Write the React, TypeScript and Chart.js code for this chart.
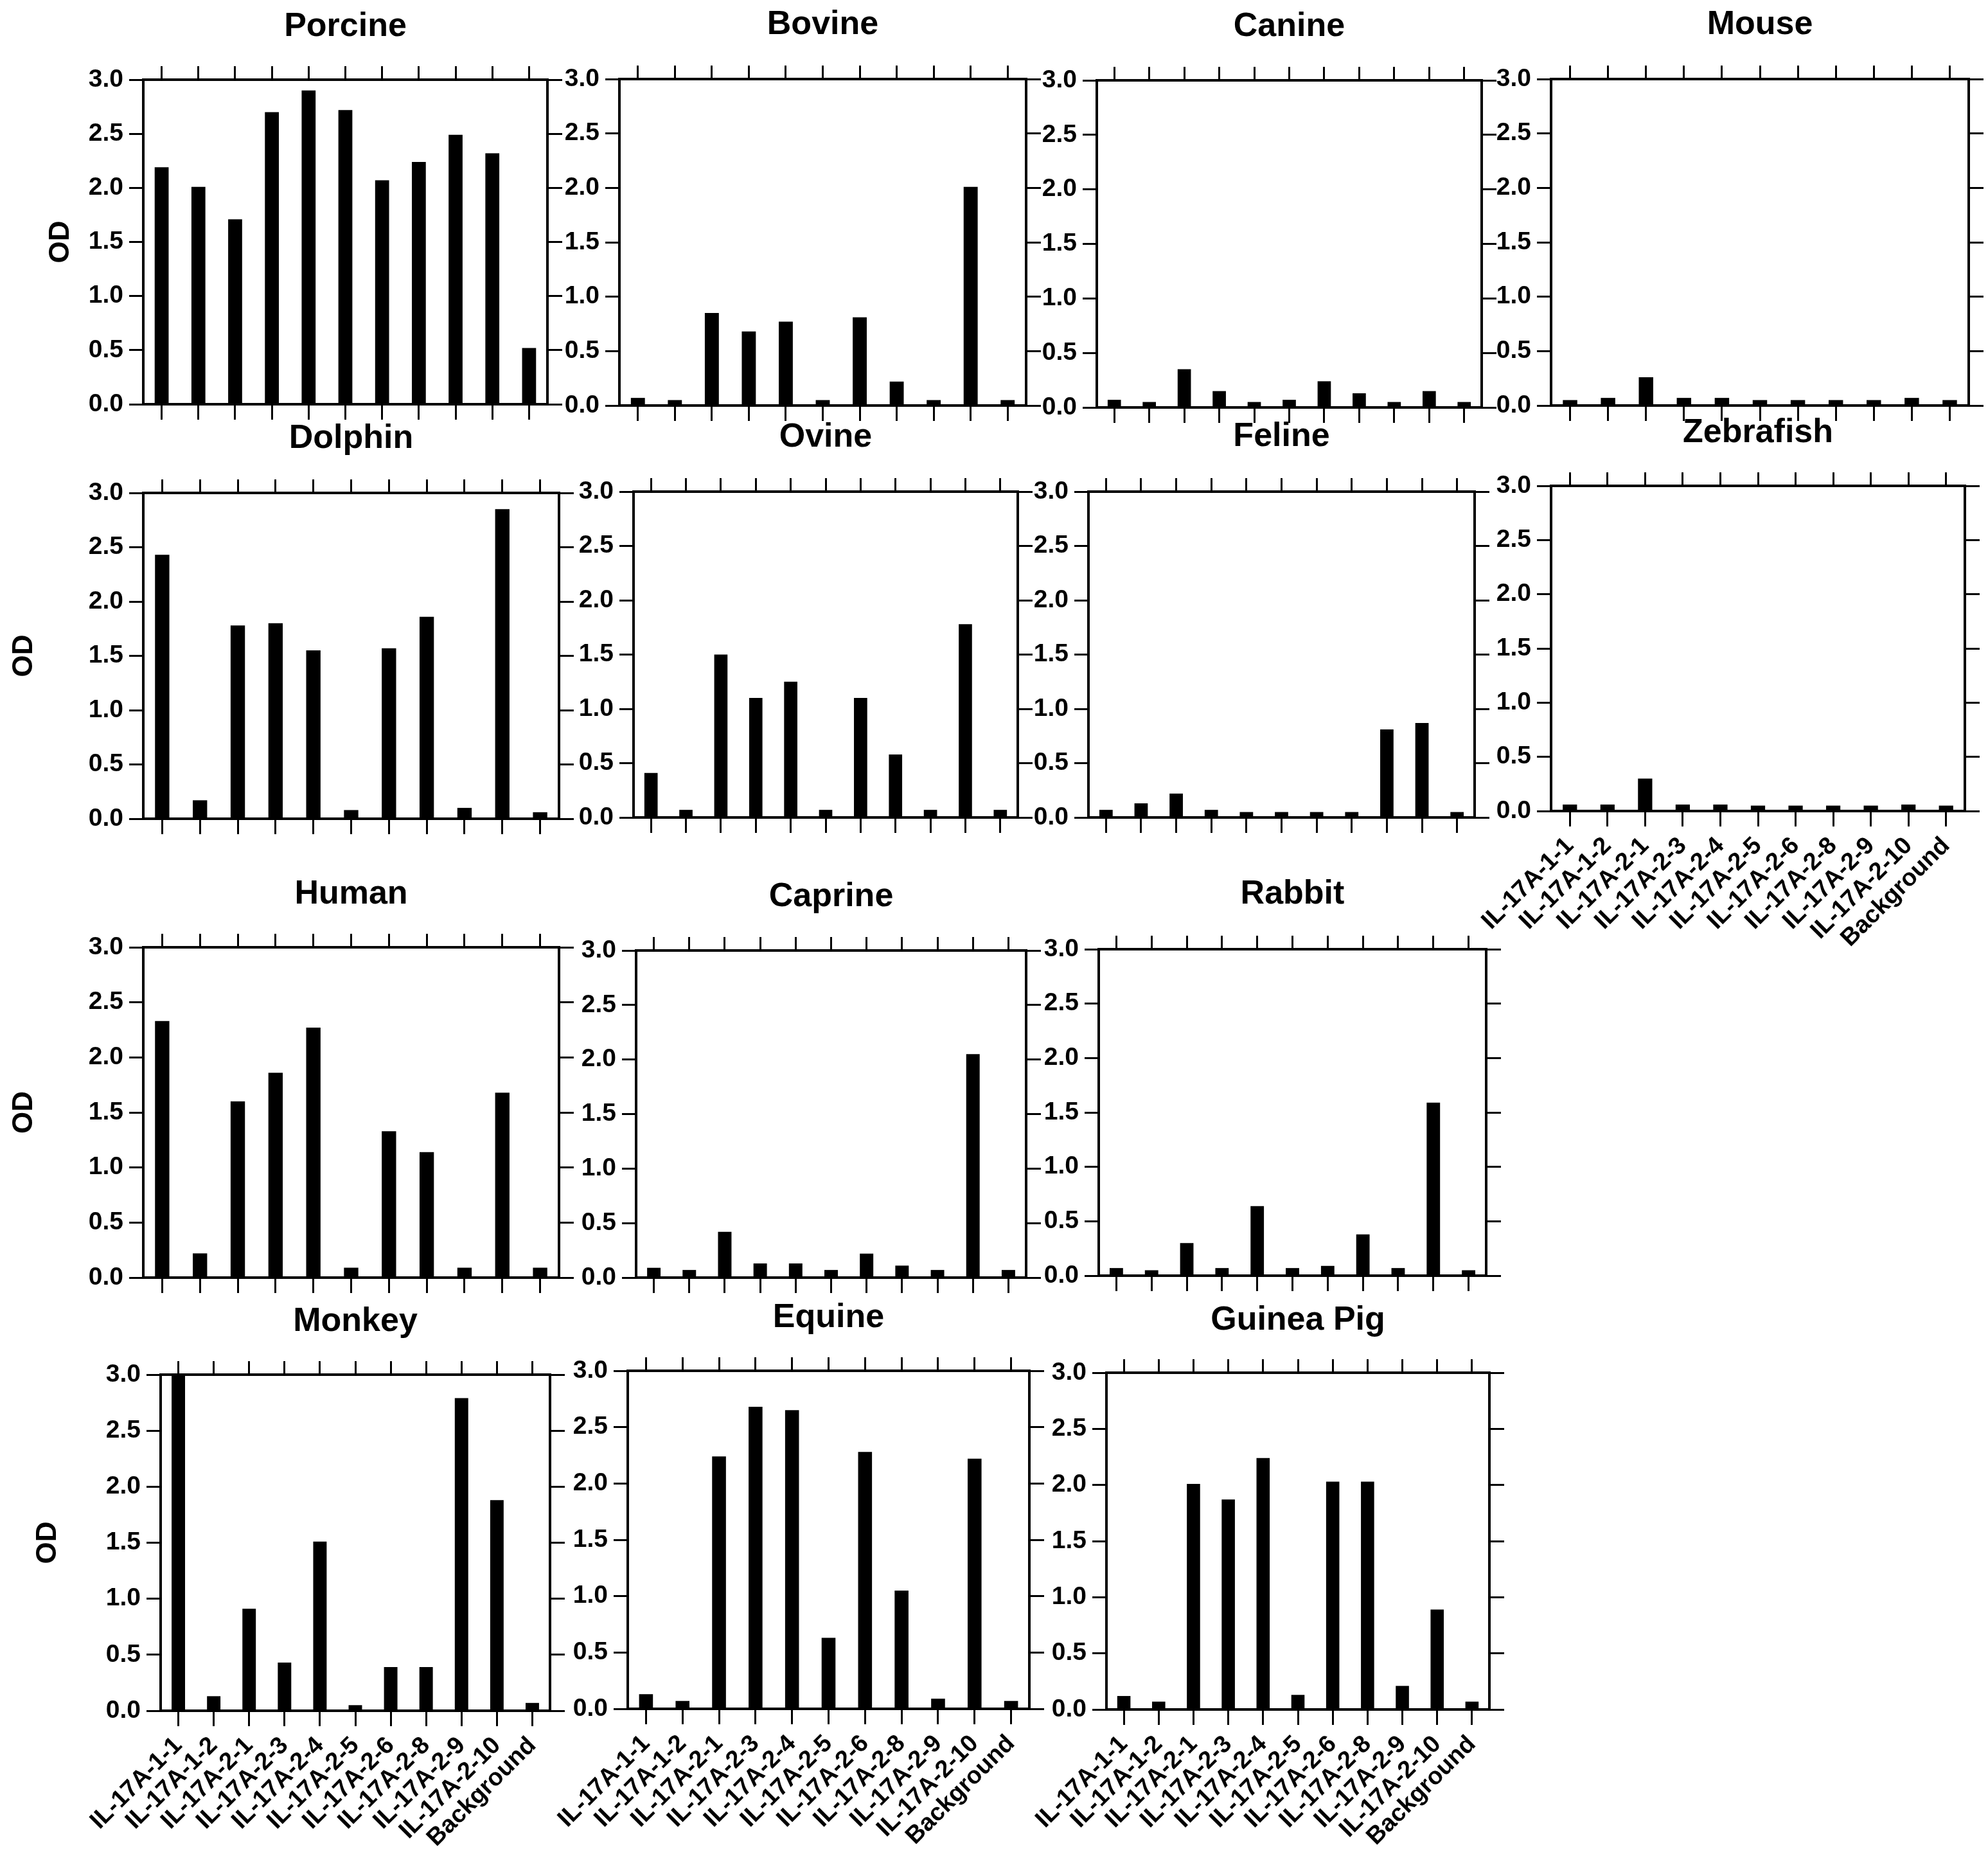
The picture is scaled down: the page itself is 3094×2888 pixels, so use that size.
import { useEffect, useRef } from 'react';
import { Chart, registerables } from 'chart.js';

Chart.register(...registerables);
Chart.defaults.font.family = '"Liberation Sans", Arial, sans-serif';
Chart.defaults.color = '#000';

// x categories (same for every panel)
const categories = [
  'IL-17A-1-1', 'IL-17A-1-2', 'IL-17A-2-1', 'IL-17A-2-3', 'IL-17A-2-4', 'IL-17A-2-5',
  'IL-17A-2-6', 'IL-17A-2-8', 'IL-17A-2-9', 'IL-17A-2-10', 'Background',
];

// y tick values (OD)
const odTicks = [0, 0.5, 1.0, 1.5, 2.0, 2.5, 3.0];

// OD values, one array per species
const porcine = [2.19, 2.01, 1.71, 2.70, 2.90, 2.72, 2.07, 2.24, 2.49, 2.32, 0.52];
const bovine = [0.07, 0.05, 0.85, 0.68, 0.77, 0.05, 0.81, 0.22, 0.05, 2.01, 0.05];
const canine = [0.07, 0.05, 0.35, 0.15, 0.05, 0.07, 0.24, 0.13, 0.05, 0.15, 0.05];
const mouse = [0.05, 0.07, 0.26, 0.07, 0.07, 0.05, 0.05, 0.05, 0.05, 0.07, 0.05];
const dolphin = [2.43, 0.17, 1.78, 1.80, 1.55, 0.08, 1.57, 1.86, 0.10, 2.85, 0.06];
const ovine = [0.41, 0.07, 1.50, 1.10, 1.25, 0.07, 1.10, 0.58, 0.07, 1.78, 0.07];
const feline = [0.07, 0.13, 0.22, 0.07, 0.05, 0.05, 0.05, 0.05, 0.81, 0.87, 0.05];
const zebrafish = [0.06, 0.06, 0.30, 0.06, 0.06, 0.05, 0.05, 0.05, 0.05, 0.06, 0.05];
const human = [2.33, 0.22, 1.60, 1.86, 2.27, 0.09, 1.33, 1.14, 0.09, 1.68, 0.09];
const caprine = [0.09, 0.07, 0.42, 0.13, 0.13, 0.07, 0.22, 0.11, 0.07, 2.05, 0.07];
const rabbit = [0.07, 0.05, 0.30, 0.07, 0.64, 0.07, 0.09, 0.38, 0.07, 1.59, 0.05];
const monkey = [3.0, 0.13, 0.91, 0.43, 1.51, 0.05, 0.39, 0.39, 2.79, 1.88, 0.07];
const equine = [0.13, 0.07, 2.24, 2.68, 2.65, 0.63, 2.28, 1.05, 0.09, 2.22, 0.07];
const guineaPig = [0.12, 0.07, 2.01, 1.87, 2.24, 0.13, 2.03, 2.03, 0.21, 0.89, 0.07];

const TITLE_SIZE = 52;
const TITLE_LH = TITLE_SIZE * 1.2;
const TOP_H = 22;
const RIGHT_W = 60;
const AXIS = '#000';

interface PanelProps {
  title: string;
  values: number[];
  box: { l: number; t: number; r: number; b: number };
  titleY: number;
  odX?: number;
  labels?: boolean;
}

function Panel({ title, values, box, titleY, odX, labels }: PanelProps) {
  const canvasRef = useRef<HTMLCanvasElement>(null);
  const left = odX !== undefined ? 0 : Math.round(box.l - 200);
  const top = Math.round(titleY - TITLE_LH / 2);
  const leftW = box.l - left;
  const bottomH = labels ? 240 : 32;
  const width = Math.round(box.r + RIGHT_W - left);
  const height = Math.round(box.b + bottomH - top);

  useEffect(() => {
    if (!canvasRef.current) return;

    const fixW = (w: number) => (scale: any) => {
      scale.width = w;
      scale.paddingLeft = scale.paddingRight = scale.paddingTop = scale.paddingBottom = 0;
    };
    const fixH = (h: number) => (scale: any) => {
      scale.height = h;
      scale.paddingLeft = scale.paddingRight = scale.paddingTop = scale.paddingBottom = 0;
    };
    const setTicks = (scale: any) => {
      scale.ticks = odTicks.map(v => ({ value: v }));
    };
    const grid = (len: number) => ({
      display: true,
      drawOnChartArea: false,
      drawTicks: true,
      offset: false,
      tickLength: len,
      lineWidth: 3,
      color: AXIS,
    });
    const border = { display: true, width: 4, color: AXIS };

    const chart = new Chart(canvasRef.current, {
      type: 'bar',
      data: {
        labels: categories,
        datasets: [
          {
            data: values,
            backgroundColor: '#000',
            borderWidth: 0,
            barPercentage: 0.38,
            categoryPercentage: 1,
            xAxisID: 'x',
            yAxisID: 'y',
          },
        ],
      },
      options: {
        animation: false,
        responsive: false,
        maintainAspectRatio: false,
        devicePixelRatio: 1,
        layout: { padding: 0 },
        plugins: {
          legend: { display: false },
          tooltip: { enabled: false },
          title: {
            display: true,
            text: title,
            fullSize: false,
            color: '#000',
            font: { size: TITLE_SIZE, weight: 'bold', lineHeight: 1.2 },
            padding: { top: 0, bottom: box.t - TOP_H - top - TITLE_LH },
          },
        },
        scales: {
          x: {
            type: 'category',
            position: 'bottom',
            offset: true,
            grid: grid(24),
            border,
            ticks: {
              display: !!labels,
              autoSkip: false,
              maxRotation: 45,
              minRotation: 45,
              padding: 8,
              color: '#000',
              font: { size: 38, weight: 'bold' },
            },
            afterFit: fixH(bottomH),
          },
          x2: {
            type: 'category',
            position: 'top',
            offset: true,
            grid: grid(21),
            border,
            ticks: { display: false },
            afterFit: fixH(TOP_H),
          },
          y: {
            type: 'linear',
            position: 'left',
            min: 0,
            max: 3,
            afterBuildTicks: setTicks,
            grid: grid(22),
            border,
            ticks: {
              padding: 9,
              color: '#000',
              font: { size: 39, weight: 'bold' },
              callback: (v: any) => Number(v).toFixed(1),
            },
            title: odX !== undefined
              ? {
                  display: true,
                  text: 'OD',
                  color: '#000',
                  font: { size: 44, weight: 'bold', lineHeight: 1.2 },
                  padding: { top: odX - 26.4, bottom: 0 },
                }
              : { display: false },
            afterFit: fixW(leftW),
          },
          y2: {
            type: 'linear',
            position: 'right',
            min: 0,
            max: 3,
            afterBuildTicks: setTicks,
            grid: grid(23),
            border,
            ticks: { display: false },
            afterFit: fixW(RIGHT_W),
          },
        },
      },
    } as any);

    return () => {
      chart.destroy();
    };
  }, [title, values, box, titleY, odX, labels, leftW, bottomH, top]);

  return (
    <canvas
      ref={canvasRef}
      width={width}
      height={height}
      style={{ position: 'absolute', left, top, width, height }}
    />
  );
}

const panels: PanelProps[] = [
  { title: 'Porcine', values: porcine, box: { l: 223, t: 124, r: 852, b: 629 }, titleY: 41, odX: 95 },
  { title: 'Bovine', values: bovine, box: { l: 964, t: 123, r: 1597, b: 631 }, titleY: 38 },
  { title: 'Canine', values: canine, box: { l: 1707, t: 125, r: 2306, b: 634 }, titleY: 41 },
  { title: 'Mouse', values: mouse, box: { l: 2414, t: 123, r: 3064, b: 631 }, titleY: 38 },
  { title: 'Dolphin', values: dolphin, box: { l: 223, t: 767, r: 870, b: 1274 }, titleY: 682, odX: 38 },
  { title: 'Ovine', values: ovine, box: { l: 986, t: 765, r: 1584, b: 1272 }, titleY: 680 },
  { title: 'Feline', values: feline, box: { l: 1694, t: 765, r: 2295, b: 1272 }, titleY: 679 },
  { title: 'Zebrafish', values: zebrafish, box: { l: 2414, t: 756, r: 3058, b: 1262 }, titleY: 673, labels: true },
  { title: 'Human', values: human, box: { l: 223, t: 1474, r: 870, b: 1988 }, titleY: 1391, odX: 38 },
  { title: 'Caprine', values: caprine, box: { l: 990, t: 1479, r: 1597, b: 1988 }, titleY: 1395 },
  { title: 'Rabbit', values: rabbit, box: { l: 1710, t: 1477, r: 2313, b: 1985 }, titleY: 1391 },
  { title: 'Monkey', values: monkey, box: { l: 250, t: 2139, r: 856, b: 2662 }, titleY: 2056, odX: 75, labels: true },
  { title: 'Equine', values: equine, box: { l: 977, t: 2133, r: 1602, b: 2659 }, titleY: 2050, labels: true },
  { title: 'Guinea Pig', values: guineaPig, box: { l: 1722, t: 2136, r: 2318, b: 2660 }, titleY: 2054, labels: true },
];

export default function App() {
  return (
    <div
      style={{
        position: 'absolute',
        left: 0,
        top: 0,
        width: 3094,
        height: 2888,
        background: '#fff',
        overflow: 'hidden',
      }}
    >
      {panels.map(p => (
        <Panel key={p.title} {...p} />
      ))}
    </div>
  );
}
